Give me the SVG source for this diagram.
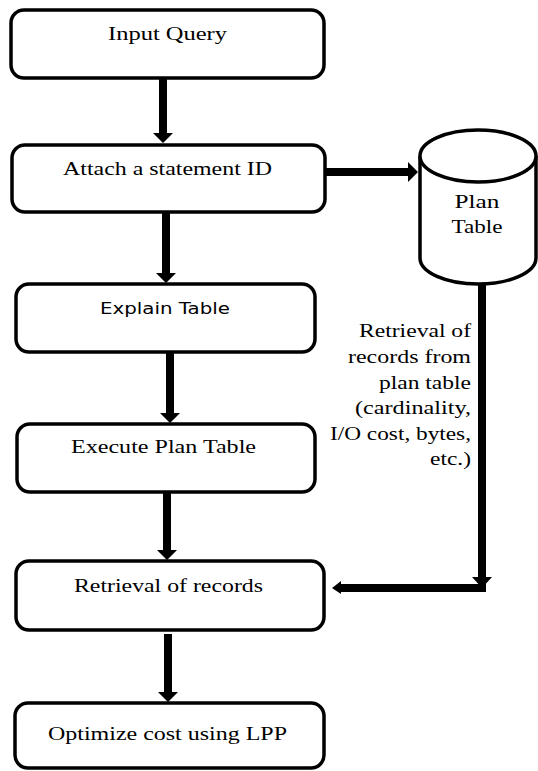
<svg xmlns="http://www.w3.org/2000/svg" width="538" height="771" viewBox="0 0 538 771">
  <style>
    .box { fill: #ffffff; stroke: #000000; stroke-width: 3.5; }
    .cyl { fill: #ffffff; stroke: #000000; stroke-width: 3.5; }
    .arrow { fill: #000000; stroke: none; }
  </style>
  <rect width="538" height="771" fill="#ffffff"/>

  <!-- connectors -->
  <g id="connectors">
    <!-- Input Query -> Attach a statement ID -->
    <polygon class="arrow" points="159,79 167,79 167,133 173,133 163,143 153,133 159,133"/>
    <!-- Attach a statement ID -> Explain Table -->
    <polygon class="arrow" points="162,213 170,213 170,273 176,273 166,283 156,273 162,273"/>
    <!-- Explain Table -> Execute Plan Table -->
    <polygon class="arrow" points="166,353 174,353 174,413 180,413 170,423 160,413 166,413"/>
    <!-- Execute Plan Table -> Retrieval of records -->
    <polygon class="arrow" points="163,493 171,493 171,550 177,550 167,560 157,550 163,550"/>
    <!-- Retrieval of records -> Optimize cost using LPP -->
    <polygon class="arrow" points="164,634 172,634 172,692 178,692 168,702 158,692 164,692"/>
    <!-- Attach a statement ID -> Plan Table -->
    <polygon class="arrow" points="326,168 408,168 408,162 418,172 408,182 408,176 326,176"/>
    <!-- Plan Table -> Retrieval of records (elbow) -->
    <polygon class="arrow" points="478,284 486,284 486,577 492,577 482,588 472,577 478,577"/>
    <polygon class="arrow" points="486,584 486,592 341,592 341,594 332,588 341,581 341,584"/>
  </g>

  <g font-family="'Liberation Serif', 'Times New Roman', serif" font-size="19" fill="#000000">
    <!-- process steps -->
    <g id="input-query">
      <rect class="box" x="11" y="10" width="313" height="68" rx="13"/>
      <text x="167.5" y="39.5" text-anchor="middle" textLength="119" lengthAdjust="spacingAndGlyphs">Input Query</text>
    </g>
    <g id="attach-statement-id">
      <rect class="box" x="12" y="145" width="313" height="67" rx="13"/>
      <text x="167.5" y="175" text-anchor="middle" textLength="209" lengthAdjust="spacingAndGlyphs">Attach a statement ID</text>
    </g>
    <g id="explain-table">
      <rect class="box" x="16" y="284" width="299" height="68" rx="13"/>
      <text x="165" y="314" text-anchor="middle" font-family="'DejaVu Sans', Verdana, sans-serif" font-size="16" textLength="130" lengthAdjust="spacingAndGlyphs">Explain Table</text>
    </g>
    <g id="execute-plan-table">
      <rect class="box" x="17" y="424" width="298" height="68" rx="13"/>
      <text x="163.5" y="453" text-anchor="middle" textLength="185" lengthAdjust="spacingAndGlyphs">Execute Plan Table</text>
    </g>
    <g id="retrieval-of-records">
      <rect class="box" x="16" y="561" width="308" height="69" rx="13"/>
      <text x="168.5" y="592" text-anchor="middle" textLength="189" lengthAdjust="spacingAndGlyphs">Retrieval of records</text>
    </g>
    <g id="optimize-cost">
      <rect class="box" x="15" y="703" width="309" height="65" rx="13"/>
      <text x="167.5" y="740" text-anchor="middle" textLength="239" lengthAdjust="spacingAndGlyphs">Optimize cost using LPP</text>
    </g>

    <!-- data store -->
    <g id="plan-table">
      <path class="cyl" d="M420,156 L420,258 A58,26 0 0 0 536,258 L536,156"/>
      <ellipse class="cyl" cx="478" cy="156" rx="58" ry="26"/>
      <text x="477" y="208" text-anchor="middle" textLength="45" lengthAdjust="spacingAndGlyphs">Plan</text>
      <text x="477" y="233" text-anchor="middle" textLength="51" lengthAdjust="spacingAndGlyphs">Table</text>
    </g>

    <!-- label of the plan-table retrieval connector -->
    <g id="retrieval-note" text-anchor="end" font-size="18">
      <text x="471" y="337" textLength="112" lengthAdjust="spacingAndGlyphs">Retrieval of</text>
      <text x="471" y="363" textLength="123" lengthAdjust="spacingAndGlyphs">records from</text>
      <text x="471" y="388.5" textLength="92" lengthAdjust="spacingAndGlyphs">plan table</text>
      <text x="471" y="414" textLength="116" lengthAdjust="spacingAndGlyphs">(cardinality,</text>
      <text x="471" y="440" textLength="141" lengthAdjust="spacingAndGlyphs">I/O cost, bytes,</text>
      <text x="471" y="465" textLength="41" lengthAdjust="spacingAndGlyphs">etc.)</text>
    </g>
  </g>
</svg>
